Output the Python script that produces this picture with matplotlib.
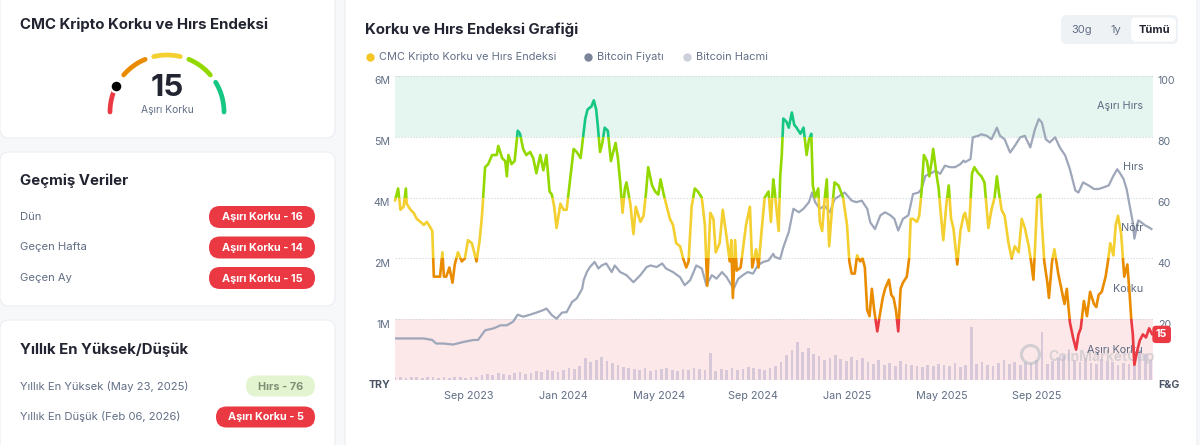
import matplotlib
matplotlib.use("Agg")
import matplotlib.pyplot as plt
import matplotlib.dates as mdates
import matplotlib.transforms as mtransforms
from matplotlib.patches import FancyBboxPatch, Rectangle
import numpy as np
import pandas as pd

plt.rcParams['font.family'] = ['Inter', 'DejaVu Sans']

# ---------------- data ----------------
START = "2023-06-30"
END_DAY = 976

fg_day = [0, 4, 7, 11, 14, 15, 20, 24, 28, 33, 37, 41, 46, 48, 50, 53, 58, 61, 63, 66,
          70, 74, 77, 81, 86, 90, 94, 99, 101, 105, 109, 112, 116, 120, 125, 131, 133, 138, 142, 144,
          146, 150, 154, 158, 161, 165, 169, 174, 178, 182, 187, 191, 195, 199, 202, 205, 208, 213, 217, 221,
          226, 230, 234, 239,
          245, 248, 253, 256, 259, 261, 264, 267, 270, 274, 278, 281, 284, 287, 290, 293, 296, 298, 303, 307,
          310, 316, 320, 323, 326, 331, 335, 339, 342, 346, 349, 354, 358, 362, 367, 371, 375, 378, 382, 386,
          390, 395, 399, 402, 406, 410, 413, 418, 422, 427, 431, 433, 435, 438, 440, 445, 448, 452, 457, 460,
          465, 468, 472, 476, 481, 484, 487,
          489, 494, 496, 498, 500, 504, 507, 511, 514, 517, 522, 526, 530, 533, 536, 538, 541, 545, 547, 550,
          553, 556, 559, 562, 566, 571, 574, 577, 582, 585, 588, 592, 595, 599, 602, 605, 608, 611, 614, 617,
          621, 624, 628, 631, 636, 639, 642, 645, 648, 651, 654, 659, 662, 664, 667, 672, 675, 678, 681, 685,
          688, 691, 693, 697, 700, 703, 706, 710, 713, 716, 719, 724, 728, 732,
          734, 739, 743, 746, 751, 755, 759, 764, 768, 772, 775, 778, 781, 785, 790, 794, 798, 803, 807, 811,
          816, 819, 822, 824, 827, 831, 833, 836, 840, 842, 846, 849, 854, 858, 862, 865, 869, 873, 877, 880,
          883, 887, 891, 895, 900, 903, 906, 910, 915, 918, 921, 925, 928, 931, 935, 939, 941, 943, 946, 948,
          950, 952, 956, 959, 963, 967, 971, 975]

fg_value = [59, 63, 56, 57, 63, 58, 56, 55, 53, 52, 51, 52, 50, 49, 34, 34, 34, 42, 34, 34,
            37, 32, 38, 42, 39, 40, 46, 45, 43, 39, 46, 54, 70, 71, 74, 74, 77, 73, 72, 67,
            74, 71, 72, 82, 81, 76, 74, 75, 73, 68, 74, 69, 74, 62, 61, 57, 50, 58, 56, 56,
            67, 76, 75, 73,
            86, 89, 90, 92, 89, 84, 75, 78, 83, 82, 72, 75, 78, 73, 65, 55, 63, 65, 58, 48,
            57, 52, 54, 61, 70, 64, 62, 61, 66, 61, 58, 53, 51, 45, 44, 40, 37, 39, 57, 63,
            62, 60, 51, 31, 55, 53, 42, 45, 56, 47, 39, 46, 27, 46, 36, 37, 43, 51, 57, 37,
            43, 37, 49, 60, 62, 52, 66,
            62, 49, 67, 74, 86, 85, 83, 88, 84, 83, 81, 83, 74, 79, 81, 64, 60, 63, 52, 49,
            59, 66, 44, 54, 65, 64, 62, 60, 51, 39, 35, 35, 41, 39, 40, 37, 23, 21, 30, 23,
            16, 21, 27, 30, 33, 28, 27, 23, 16, 30, 32, 34, 40, 53, 53, 52, 54, 62, 74, 72,
            67, 72, 76, 68, 63, 54, 46, 58, 64, 53, 50, 38, 49, 54,
            55, 49, 68, 70, 68, 67, 65, 50, 56, 60, 67, 61, 56, 54, 45, 40, 44, 42, 53, 50,
            44, 39, 33, 43, 60, 61, 51, 39, 32, 27, 39, 43, 35, 30, 25, 30, 19, 14, 10, 15,
            17, 26, 21, 29, 25, 24, 28, 29, 34, 39, 45, 41, 51, 54, 48, 34, 36, 38, 28, 20,
            15, 5, 10, 13, 15, 14, 17, 15]

price_day = [0, 20, 37, 48, 53, 62, 75, 88, 101, 107, 116, 127, 136, 144, 152, 158, 165, 174, 182, 191,
             195, 202, 208, 215, 221, 228, 234, 241, 243,
             247, 251, 257, 262, 266, 272, 279, 283, 290, 298, 307, 316, 324, 329, 337, 344, 349, 358, 367, 373,
             380, 388, 395, 401, 408, 414, 421, 427, 436, 442, 448, 454, 461, 467, 474, 481, 487,
             489, 496, 500, 507, 513, 520, 526, 533, 537, 541, 547, 553, 560, 566, 573, 579, 588, 594, 601, 608,
             612, 618, 625, 631, 638, 643, 648, 654, 661, 667, 674, 678, 683, 689, 696, 702, 708, 715, 721, 728, 732,
             734, 741, 744, 751, 755, 762, 768, 775, 779, 785, 792, 798, 805, 811, 818, 824, 829, 833, 838, 843,
             850, 856, 863, 869, 876, 880, 886, 893, 900, 906, 912, 919, 925, 930, 934, 938, 942, 946, 950, 952,
             957, 961, 966, 970, 974]

price_mtry = [0.82, 0.82, 0.82, 0.79, 0.72, 0.72, 0.70, 0.75, 0.79, 0.79, 0.98, 1.02, 1.08, 1.08, 1.15, 1.29,
              1.25, 1.29, 1.33, 1.38, 1.41, 1.28, 1.21, 1.33, 1.34, 1.54, 1.61, 1.80, 1.97,
              2.13, 2.23, 2.33, 2.20, 2.26, 2.30, 2.13, 2.26, 2.13, 2.07, 1.93, 2.07, 2.23, 2.26, 2.23, 2.30,
              2.20, 2.13, 2.03, 1.87, 1.97, 2.26, 2.20, 1.87, 2.07, 2.00, 2.13, 2.03, 1.80, 2.00, 2.07, 2.13,
              2.10, 2.26, 2.33, 2.36, 2.49,
              2.43, 2.39, 2.62, 2.92, 3.38, 3.31, 3.38, 3.51, 3.70, 3.51, 3.38, 3.44, 3.31, 3.57, 3.64, 3.70,
              3.54, 3.51, 3.54, 3.38, 3.11, 2.98, 3.25, 3.31, 3.25, 3.18, 2.95, 3.18, 3.25, 3.67, 3.70, 3.77,
              4.03, 4.07, 4.13, 4.07, 4.23, 4.20, 4.20, 4.26, 4.33,
              4.30, 4.36, 4.79, 4.82, 4.85, 4.82, 4.75, 4.98, 4.82, 4.75, 4.49, 4.62, 4.79, 4.82, 4.59, 4.95,
              5.15, 5.08, 4.75, 4.69, 4.79, 4.59, 4.43, 4.16, 3.74, 3.70, 3.90, 3.84, 3.77, 3.77, 3.80, 3.84,
              4.03, 4.16, 4.07, 3.97, 3.77, 3.44, 3.11, 2.79, 3.15, 3.11, 3.05, 3.02, 2.98]

# weekly volume (relative, billions)
volume_step_days = 7
volume_bn = [3, 3, 2, 3, 3, 2, 3, 3, 2, 3, 2, 3, 3, 2, 3, 3,
             5, 6, 5, 7, 6, 5, 7, 8, 6, 7, 9, 8, 10, 9, 8, 10, 12, 11, 14,
             22, 18, 20, 23, 19, 17, 15, 13,
             12, 11, 10, 12, 9, 10, 11, 12, 10, 9, 11, 10, 12, 11, 10, 27, 9, 11, 10, 12, 10, 11, 13, 12,
             11, 10, 12, 14,
             18, 25, 30, 38, 28, 32, 26, 24, 20, 22, 25, 21, 19, 23, 20,
             22, 18, 16, 20, 15, 17, 14, 19, 16, 15, 14, 13, 15, 14, 16,
             15, 14, 17, 13, 15, 53, 16, 18, 15, 14, 17, 20, 16, 18, 15,
             18, 17, 20, 48, 16, 19, 22, 25, 30, 20, 18, 22, 17, 16, 21, 19, 18, 15, 17, 16, 22, 30, 26, 20]

price_ticks = [0, 1.2, 2.4, 3.6, 4.8, 6.0]
fg_ticks = [0, 20, 40, 60, 80, 100]
x_tick_dates = ["2023-09-01", "2024-01-01", "2024-05-01", "2024-09-01",
                "2025-01-01", "2025-05-01", "2025-09-01"]
x_tick_labels = ["Sep 2023", "Jan 2024", "May 2024", "Sep 2024", "Jan 2025", "May 2025", "Sep 2025"]

zone_names = ["Aşırı Korku", "Korku", "Nötr", "Hırs", "Aşırı Hırs"]
zone_bounds = [0, 20, 40, 60, 80, 100]
zone_colors = ["#EA3943", "#EA8C00", "#F3CF2F", "#93D900", "#16C784"]

current_value = 15
current_label = "Aşırı Korku"
history_labels = ["Dün", "Geçen Hafta", "Geçen Ay"]
history_values = [16, 14, 15]
history_classes = ["Aşırı Korku", "Aşırı Korku", "Aşırı Korku"]
yearly_labels = ["Yıllık En Yüksek (May 23, 2025)", "Yıllık En Düşük (Feb 06, 2026)"]
yearly_classes = ["Hırs", "Aşırı Korku"]
yearly_values = [76, 5]

# ---------------- helpers ----------------
start = pd.Timestamp(START)


def to_num(days):
    return mdates.date2num((start + pd.to_timedelta(days, unit="D")).to_pydatetime())


fg_x = to_num(fg_day)
price_x = to_num(price_day)
vol_x = to_num(np.arange(len(volume_bn)) * volume_step_days)
x0, x1 = to_num([0, END_DAY])

TITLE = "#222531"
GRAY = "#616E85"

W, H = 1200, 445
fig = plt.figure(figsize=(W / 100, H / 100), dpi=100, facecolor="#F7F8FA")

bg = fig.add_axes([0, 0, 1, 1], zorder=0)
bg.set_xlim(0, W)
bg.set_ylim(H, 0)
bg.axis("off")


def card(x, y, w, h, r=9):
    bg.add_patch(FancyBboxPatch((x, y), w, h, boxstyle=f"round,pad=0,rounding_size={r}",
                                fc="white", ec="#ECEEF2", lw=0.8))


def pill(xr, yc, w, h, fc, text, tc, bold=True, ax=bg):
    ax.add_patch(FancyBboxPatch((xr - w, yc - h / 2), w, h,
                                boxstyle=f"round,pad=0,rounding_size={h / 2}", fc=fc, ec="none"))
    ax.text(xr - w / 2, yc + 0.5, text, ha="center", va="center", color=tc, fontsize=7.8,
            fontweight="bold" if bold else "normal")


card(0, -12, 335, 150)
card(0, 152, 335, 154)
card(0, 320, 335, 140)
card(345, -12, 852, 470)

# --- card 1: gauge ---
bg.text(20, 25, "CMC Kripto Korku ve Hırs Endeksi", fontsize=10.8, fontweight="bold",
        color=TITLE, va="center", ha="left")
cx, cy, rr = 167, 112, 57
for lo, hi, col in zip(zone_bounds[:-1], zone_bounds[1:], zone_colors):
    a0 = np.radians(180 - lo * 1.8 - (4.5 if lo > 0 else 0))
    a1 = np.radians(180 - hi * 1.8 + (4.5 if hi < 100 else 0))
    t = np.linspace(a0, a1, 60)
    bg.plot(cx + rr * np.cos(t), cy - rr * np.sin(t), color=col, lw=3.4, solid_capstyle="round")
ang = np.radians(180 - current_value * 1.8)
bg.plot([cx + rr * np.cos(ang)], [cy - rr * np.sin(ang)], "o", ms=8.5, mfc="black",
        mec="white", mew=1.6, zorder=5)
bg.text(cx, 88, str(current_value), fontsize=22.5, fontweight="bold", color=TITLE,
        ha="center", va="center")
bg.text(cx, 110, current_label, fontsize=7.4, color=GRAY, ha="center", va="center")

# --- card 2: history ---
bg.text(20, 181, "Geçmiş Veriler", fontsize=10.8, fontweight="bold", color=TITLE, va="center")
for i, (lab, val, cls) in enumerate(zip(history_labels, history_values, history_classes)):
    yc = 217 + i * 30.5
    bg.text(20, yc, lab, fontsize=8.1, color=GRAY, va="center")
    pill(315, yc, 106, 22, "#EA3943", f"{cls} - {val}", "white")

# --- card 3: yearly ---
bg.text(20, 350, "Yıllık En Yüksek/Düşük", fontsize=10.8, fontweight="bold", color=TITLE, va="center")
bg.text(20, 386, yearly_labels[0], fontsize=8.1, color=GRAY, va="center")
pill(315, 386, 69, 21, "#E3F4D0", f"{yearly_classes[0]} - {yearly_values[0]}", "#7F8E74")
bg.text(20, 417, yearly_labels[1], fontsize=8.1, color=GRAY, va="center")
pill(315, 417, 99, 21, "#EA3943", f"{yearly_classes[1]} - {yearly_values[1]}", "white")

# --- right card header ---
bg.text(365, 30, "Korku ve Hırs Endeksi Grafiği", fontsize=10.8, fontweight="bold",
        color=TITLE, va="center")
legend_items = [("CMC Kripto Korku ve Hırs Endeksi", "#F3C623", 370),
                ("Bitcoin Fiyatı", "#7C8498", 588),
                ("Bitcoin Hacmi", "#CBD0DA", 687)]
for lab, col, lx in legend_items:
    bg.plot([lx], [57], "o", ms=5, color=col)
    bg.text(lx + 9, 57.5, lab, fontsize=7.9, color=GRAY, va="center")

bg.add_patch(FancyBboxPatch((1061, 15), 117, 29, boxstyle="round,pad=0,rounding_size=6",
                            fc="#EFF2F5", ec="none"))
bg.add_patch(FancyBboxPatch((1131, 17.5), 45, 24, boxstyle="round,pad=0,rounding_size=5",
                            fc="white", ec="none"))
bg.text(1082, 30, "30g", fontsize=8, color=GRAY, ha="center", va="center")
bg.text(1116, 30, "1y", fontsize=8, color=GRAY, ha="center", va="center")
bg.text(1154, 30, "Tümü", fontsize=8, color=TITLE, fontweight="bold", ha="center", va="center")

# ---------------- chart axes ----------------
L, R, T, B = 395, 1153, 76, 380
rect = [L / W, (H - B) / H, (R - L) / W, (B - T) / H]
ax_bg = fig.add_axes(rect, zorder=1)
ax_vol = fig.add_axes(rect, zorder=2)
ax_p = fig.add_axes(rect, zorder=3)
ax_fg = fig.add_axes(rect, zorder=4)
for a in (ax_bg, ax_vol, ax_p, ax_fg):
    a.set_facecolor("none")
    for s in a.spines.values():
        s.set_visible(False)
    a.set_xlim(x0, x1)

# zones + grid
ax_bg.set_ylim(0, 100)
ax_bg.axhspan(80, 100, color="#E4F6EF", lw=0)
ax_bg.axhspan(0, 20, color="#FCE8E8", lw=0)
for g in fg_ticks[1:]:
    ax_bg.axhline(g, color="#D3D8E0", lw=0.8, ls=(0, (1.2, 1.5)))
ax_bg.set_xticks([])
ax_bg.set_yticks([])

# volume
ax_vol.set_ylim(0, 305)
ax_vol.bar(vol_x, volume_bn, width=3.5, color="#CDC0D6", lw=0, alpha=0.8)
ax_vol.set_xticks([])
ax_vol.set_yticks([])

# price
ax_p.set_ylim(0, 6)
ax_p.plot(price_x, price_mtry, color="#9EA6B9", lw=1.6, solid_joinstyle="round")
ax_p.set_yticks(price_ticks)
ax_p.set_yticklabels(["TRY"] + [f"{v:.0f}M" for v in price_ticks[1:]])
ax_p.tick_params(axis="y", length=0, pad=3.5, labelsize=7.6, labelcolor=GRAY)
ax_p.set_xticks(mdates.date2num(pd.to_datetime(x_tick_dates).to_pydatetime()))
ax_p.set_xticklabels(x_tick_labels, ha="left")
ax_p.tick_params(axis="x", length=0, pad=8, labelsize=7.8, labelcolor=GRAY)

# fear & greed line, coloured by band
ax_fg.set_ylim(0, 100)
blend = mtransforms.blended_transform_factory(ax_fg.transAxes, ax_fg.transData)
for lo, hi, col in zip(zone_bounds[:-1], zone_bounds[1:], zone_colors):
    line, = ax_fg.plot(fg_x, fg_value, color=col, lw=1.9, solid_joinstyle="round",
                       solid_capstyle="round")
    clip = Rectangle((-0.1, lo if lo > 0 else -20), 1.2,
                     (hi - lo) + (20 if lo == 0 else 0) + (20 if hi == 100 else 0),
                     transform=blend)
    line.set_clip_path(clip)
ax_fg.set_xticks([])
ax_fg.yaxis.tick_right()
ax_fg.set_yticks(fg_ticks)
ax_fg.set_yticklabels(["F&G"] + [str(v) for v in fg_ticks[1:]])
ax_fg.tick_params(axis="y", length=0, pad=3.5, labelsize=7.6, labelcolor=GRAY)

# shift y tick labels slightly below their grid lines, bold unit labels
down = mtransforms.ScaledTranslation(0, -4.5 / 100, fig.dpi_scale_trans)
for lbls in (ax_p.get_yticklabels(), ax_fg.get_yticklabels()):
    for i, lab in enumerate(lbls):
        lab.set_transform(lab.get_transform() + down)
        if i == 0:
            lab.set_fontweight("bold")
            lab.set_color("#4A5468")

# zone labels
for name, lo, hi in zip(zone_names, zone_bounds[:-1], zone_bounds[1:]):
    ax_fg.text(0.987, (lo + hi) / 2, name, transform=blend, ha="right", va="center",
               fontsize=7.8, color="#5D6A80", zorder=1)

# watermark
ax_fg.plot([0.838], [0.085], "o", transform=ax_fg.transAxes, ms=13, mfc="none",
           mec="#B9BDC6", mew=2.2, alpha=0.6, zorder=0.5)
ax_fg.text(0.862, 0.075, "CoinMarketCap", transform=ax_fg.transAxes, fontsize=10,
           fontweight="bold", color="#B9BDC6", alpha=0.55, va="center", ha="left", zorder=0.5)

# current value badge
ax_fg.text(1.004, fg_value[-1], str(fg_value[-1]), transform=blend, ha="left", va="center",
           fontsize=7.6, fontweight="bold", color="white", zorder=10, clip_on=False,
           bbox=dict(boxstyle="round,pad=0.35,rounding_size=0.35", fc="#EA3943", ec="none"))

fig.savefig("out.png", dpi=100, facecolor=fig.get_facecolor())
